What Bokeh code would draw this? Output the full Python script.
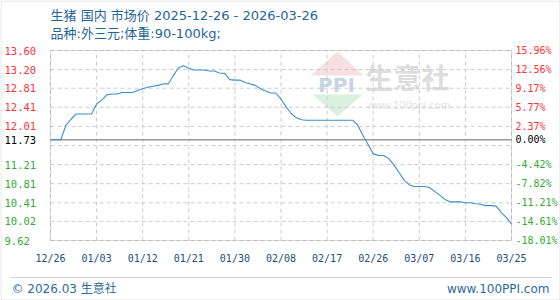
from bokeh.plotting import figure
from bokeh.models import (ColumnDataSource, LabelSet, Label, BoxAnnotation,
                          PolyAnnotation, Range1d)
from bokeh.core.properties import value
from bokeh.embed import file_html
from bokeh.resources import INLINE

# ---------------- data ----------------
days = list(range(91))  # 0 = 2025-12-26 ... 90 = 2026-03-26
price = [
    11.73, 11.73, 11.73, 12.03, 12.16, 12.27, 12.27, 12.27, 12.27, 12.48,
    12.56, 12.67, 12.69, 12.69, 12.72, 12.72, 12.72, 12.76, 12.80, 12.83,
    12.85, 12.87, 12.90, 12.90, 13.08, 13.24, 13.28, 13.23, 13.19, 13.19,
    13.19, 13.17, 13.17, 13.13, 13.12, 12.99, 12.98, 12.98, 12.93, 12.90,
    12.87, 12.80, 12.75, 12.71, 12.71, 12.58, 12.42, 12.28, 12.19, 12.15,
    12.14, 12.14, 12.14, 12.14, 12.14, 12.14, 12.14, 12.14, 12.14, 12.14,
    12.03, 11.82, 11.63, 11.44, 11.40, 11.40, 11.34, 11.21, 11.05, 10.89,
    10.79, 10.75, 10.75, 10.75, 10.73, 10.65, 10.57, 10.48, 10.43, 10.43,
    10.43, 10.41, 10.41, 10.39, 10.38, 10.35, 10.35, 10.34, 10.21, 10.10,
    9.97,
]
x_tick_days = [0, 9, 18, 27, 36, 45, 54, 63, 72, 81, 90]
x_tick_labels = ["12/26", "01/03", "01/12", "01/21", "01/30", "02/08",
                 "02/17", "02/26", "03/07", "03/16", "03/25"]
y_grid = [9.62, 10.02, 10.41, 10.81, 11.21, 11.61, 12.01, 12.41, 12.81, 13.20, 13.60]
y_label_values = [13.60, 13.20, 12.81, 12.41, 12.01, 11.73, 11.21, 10.81, 10.41, 10.02, 9.62]
y_left_text = ["13.60", "13.20", "12.81", "12.41", "12.01", "11.73",
               "11.21", "10.81", "10.41", "10.02", "9.62"]
y_right_text = ["15.96%", "12.56%", "9.17%", "5.77%", "2.37%", "0.00%",
                "-4.42%", "-7.82%", "-11.21%", "-14.61%", "-18.01%"]
base_price = 11.73
title_1 = "生猪 国内 市场价 2025-12-26 - 2026-03-26"
title_2 = "品种:外三元;体重:90-100kg;"
footer_left = "© 2026.03 生意社"
footer_right = "www.100PPI.com"

# ---------------- style / layout ----------------
W, H = 560, 300
FL, FR, FT, FB = 50, 511, 50, 240       # plot-box edges in canvas pixels
RED, GREEN, BLACK = "#ff3333", "#33aa33", "#000000"
BLUE_TXT = "#1f6699"
CJK = "Noto Sans CJK SC"
TXT = "DejaVu Sans, Noto Sans CJK SC"
MONO = "DejaVu Sans Mono"
GRID = "#cccccc"
FRAME = "#999999"

# the Bokeh frame fills the whole canvas; the plot box is placed inside it
x0, x1 = days[0], days[-1]
y0, y1 = y_grid[0], y_grid[-1]
kx = (FR - FL) / (x1 - x0)
ky = (FB - FT) / (y1 - y0)
x_range = Range1d(x0 - FL / kx, x1 + (W - FR) / kx)
y_range = Range1d(y0 - (H - FB) / ky, y1 + FT / ky)


def sx(cx):  # canvas x -> screen units
    return cx


def sy(cy):  # canvas y (top-down) -> screen units (bottom-up)
    return H - cy


p = figure(width=W, height=H, output_backend="svg", toolbar_location=None,
           x_axis_location=None, y_axis_location=None,
           x_range=x_range, y_range=y_range,
           min_border_left=0, min_border_right=0, min_border_top=0, min_border_bottom=0)
p.outline_line_color = None
p.background_fill_color = "white"
p.border_fill_color = "white"
p.xgrid.visible = False
p.ygrid.visible = False

# watermark
wm_red = PolyAnnotation(xs=[sx(337), sx(310), sx(363)], ys=[sy(51), sy(75), sy(75)],
                        xs_units="screen", ys_units="screen", fill_color="#f0b8b8",
                        fill_alpha=0.45, line_alpha=0, level="underlay")
wm_green = PolyAnnotation(xs=[sx(312), sx(362), sx(337)], ys=[sy(94), sy(94), sy(116)],
                          xs_units="screen", ys_units="screen", fill_color="#b8e4c0",
                          fill_alpha=0.5, line_alpha=0, level="underlay")
wm_ppi = Label(x=sx(336), y=sy(84), x_units="screen", y_units="screen", text="PPI",
               text_font="DejaVu Sans", text_font_size="20px", text_font_style="bold",
               text_color="#c9d3e6", text_align="center", text_baseline="middle",
               level="underlay")
wm_name = Label(x=sx(407), y=sy(76), x_units="screen", y_units="screen", text="生意社",
                text_font=CJK, text_font_size="28px", text_font_style="bold",
                text_color="#dddddd", text_align="center", text_baseline="middle",
                level="underlay")
wm_url = Label(x=sx(408), y=sy(104), x_units="screen", y_units="screen",
               text="www.100ppi.com", text_font="Liberation Sans", text_font_size="11px",
               text_color="#e4e4e4", text_align="center", text_baseline="middle",
               level="underlay")
for r in (wm_red, wm_green, wm_ppi, wm_name, wm_url):
    p.add_layout(r)

# dashed grid lines inside the plot box
p.segment(x0=x_tick_days, y0=[y0] * len(x_tick_days), x1=x_tick_days,
          y1=[y1] * len(x_tick_days), line_color=GRID, line_dash="4 3", line_width=1)
p.segment(x0=[x0] * len(y_grid), y0=y_grid, x1=[x1] * len(y_grid), y1=y_grid,
          line_color=GRID, line_dash="4 3", line_width=1)

# plot box
p.add_layout(BoxAnnotation(left=x0, right=x1, bottom=y0, top=y1, fill_alpha=0,
                           line_color=FRAME, line_width=1))

# base line
p.segment(x0=[x0], y0=[base_price], x1=[x1], y1=[base_price], line_color=FRAME,
          line_width=1.5)

# price line
p.line(days, price, line_color="#3b8fd0", line_width=1.1)

# x tick labels
xsrc = ColumnDataSource(dict(x=x_tick_days, t=x_tick_labels))
p.add_layout(LabelSet(x="x", y=sy(258), text="t", source=xsrc, x_units="data",
                      y_units="screen", text_color="#1d4e7d", text_font=value(MONO),
                      text_font_size=value("10px"), text_align="center",
                      text_baseline="middle"))

# y tick labels (left price, right percent), coloured by side of base
colors = [RED if v > base_price else (BLACK if v == base_price else GREEN)
          for v in y_label_values]
ysrc = ColumnDataSource(dict(y=y_label_values, left=y_left_text, right=y_right_text,
                             color=colors))
p.add_layout(LabelSet(x=sx(4), y="y", text="left", source=ysrc, x_units="screen",
                      y_units="data", text_color="color", text_font=value(MONO),
                      text_font_size=value("10.5px"), text_align="left",
                      text_baseline="middle"))
p.add_layout(LabelSet(x=sx(515), y="y", text="right", source=ysrc, x_units="screen",
                      y_units="data", text_color="color", text_font=value(MONO),
                      text_font_size=value("10px"), text_align="left",
                      text_baseline="middle"))

# titles
p.add_layout(Label(x=sx(50), y=sy(15), x_units="screen", y_units="screen", text=title_1,
                   text_font=TXT, text_font_size="13px", text_color=BLUE_TXT,
                   text_baseline="middle"))
p.add_layout(Label(x=sx(50), y=sy(33), x_units="screen", y_units="screen", text=title_2,
                   text_font=TXT, text_font_size="13px", text_color=BLUE_TXT,
                   text_baseline="middle"))

# footer
p.add_layout(BoxAnnotation(left=sx(10), right=sx(551), top=sy(277), bottom=sy(277),
                           left_units="screen", right_units="screen", top_units="screen",
                           bottom_units="screen", fill_alpha=0, line_color="#aaaaaa",
                           line_width=1))
p.add_layout(Label(x=sx(11), y=sy(288), x_units="screen", y_units="screen",
                   text=footer_left, text_font=TXT, text_font_size="12px",
                   text_color="#2b6a9b", text_baseline="middle"))
p.add_layout(Label(x=sx(549), y=sy(288), x_units="screen", y_units="screen",
                   text=footer_right, text_font=TXT, text_font_size="12px",
                   text_color="#2b6a9b", text_align="right", text_baseline="middle"))

# outer border
p.add_layout(BoxAnnotation(left=sx(0.5), right=sx(W - 0.5), top=sy(0.5), bottom=sy(H - 0.5),
                           left_units="screen", right_units="screen", top_units="screen",
                           bottom_units="screen", fill_alpha=0, line_color="#999999",
                           line_width=1))

open("out.html", "w").write(file_html(p, INLINE))
